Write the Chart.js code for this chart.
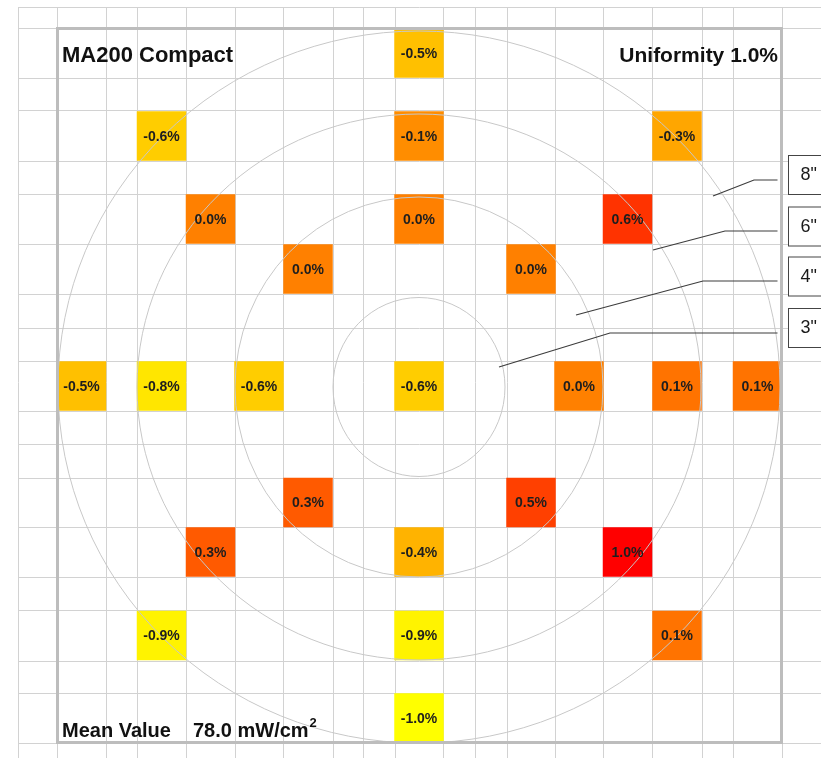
<!DOCTYPE html>
<html>
<head>
<meta charset="utf-8">
<title>MA200 Compact uniformity map</title>
<script src="https://cdn.jsdelivr.net/npm/chart.js@4.4.1/dist/chart.umd.min.js"></script>
<style>
  html, body { margin: 0; padding: 0; background: #fff; }
  canvas { display: block; }
</style>
</head>
<body>
<canvas id="uniformityMap" width="821" height="758"></canvas>
<script>
// Sheet grid: column and row boundaries (sheet units)
const colEdges = [18, 57, 106, 137, 186, 235, 283, 333, 363, 395, 443, 475, 507, 555, 603, 652, 702, 733, 782];
const rowEdges = [7, 28, 78, 111, 161, 194, 244, 294, 328, 361, 411, 444, 478, 527, 577, 610, 661, 693, 743];

// Measurement sites: cell centre and deviation from mean (%)
const siteX = [419, 161.5, 419, 677, 210.5, 419, 627.5, 308, 531, 81.5, 161.5, 259, 419, 579, 677, 757.5, 308, 531, 210.5, 419, 627.5, 161.5, 419, 677, 419];
const siteY = [53, 136, 136, 136, 219, 219, 219, 269, 269, 386, 386, 386, 386, 386, 386, 386, 502.5, 502.5, 552, 552, 552, 635.5, 635.5, 635.5, 718];
const siteDev = [-0.5, -0.6, -0.1, -0.3, 0.0, 0.0, 0.6, 0.0, 0.0, -0.5, -0.8, -0.6, -0.6, 0.0, 0.1, 0.1, 0.3, 0.5, 0.3, -0.4, 1.0, -0.9, -0.9, 0.1, -1.0];

// Wafer rings
const waferCenter = [419, 387];
const ringLabels = ['8"', '6"', '4"', '3"'];
const ringRadiusX = [361, 282, 184, 86];
const ringRadiusY = [356, 273, 190, 89.5];

// Header / footer text
const titleText = 'MA200 Compact';
const uniformityText = 'Uniformity 1.0%';
const meanLabel = 'Mean Value';
const meanValue = '78.0 mW/cm';

// callout layout for ring labels (sheet units)
const callouts = {
  boxLeft: 788.5,
  boxTop: [155, 206.5, 256.5, 308],
  boxHeight: 39,
  lineStart: 777.5,
  kneeX: [754, 725, 703, 610],
  kneeY: [180, 231, 281, 333],
  tipX: [713, 653, 576, 499],
  tipY: [196, 250, 315, 367]
};

const FONT = "'Liberation Sans', Arial, sans-serif";

// yellow (-1%) -> orange (0%) -> red (+1%)
function devColor(v) {
  const g = Math.max(0, Math.min(255, Math.round(128 - 128 * v)));
  return `rgb(255, ${g}, 0)`;
}

const sites = siteX.map((x, i) => ({ x, y: siteY[i], dev: siteDev[i] }));

const overlayPlugin = {
  id: 'waferOverlay',
  afterDatasetsDraw(chart) {
    const { ctx, scales: { x, y } } = chart;

    // rings
    ctx.save();
    ctx.strokeStyle = '#c8c8c8';
    ctx.lineWidth = 1;
    const cx = x.getPixelForValue(waferCenter[0]);
    const cy = y.getPixelForValue(waferCenter[1]);
    ringLabels.forEach((_, i) => {
      const rx = Math.abs(x.getPixelForValue(waferCenter[0] + ringRadiusX[i]) - cx);
      const ry = Math.abs(y.getPixelForValue(waferCenter[1] + ringRadiusY[i]) - cy);
      ctx.beginPath();
      ctx.ellipse(cx, cy, rx, ry, 0, 0, Math.PI * 2);
      ctx.stroke();
    });
    ctx.restore();

    // site values
    const meta = chart.getDatasetMeta(0);
    ctx.save();
    ctx.font = `bold 14px ${FONT}`;
    ctx.fillStyle = '#1e1e1e';
    ctx.textAlign = 'center';
    ctx.textBaseline = 'middle';
    meta.data.forEach((pt, i) => {
      ctx.fillText(siteDev[i].toFixed(1) + '%', pt.x, pt.y + 1);
    });
    ctx.restore();
  },
  afterDraw(chart) {
    const { ctx, scales: { x, y } } = chart;
    const left = x.getPixelForValue(colEdges[1]);
    const right = x.getPixelForValue(colEdges[colEdges.length - 1]);
    const top = y.getPixelForValue(rowEdges[1]);
    const bottom = y.getPixelForValue(rowEdges[rowEdges.length - 1]);

    // frame
    ctx.save();
    ctx.strokeStyle = '#bdbdbd';
    ctx.lineWidth = 3;
    ctx.strokeRect(left + 0.5, top + 0.5, right - left - 1, bottom - top - 1);
    ctx.restore();

    // header and footer text
    ctx.save();
    ctx.fillStyle = '#111';
    ctx.textBaseline = 'alphabetic';
    ctx.font = `bold 22px ${FONT}`;
    ctx.textAlign = 'left';
    ctx.fillText(titleText, left + 5, top + 34);
    ctx.font = `bold 21px ${FONT}`;
    ctx.textAlign = 'right';
    ctx.fillText(uniformityText, right - 4, top + 34);

    ctx.textAlign = 'left';
    ctx.font = `bold 20px ${FONT}`;
    ctx.fillText(meanLabel, left + 5, bottom - 6);
    ctx.fillText(meanValue, x.getPixelForValue(193), bottom - 6);
    const supX = x.getPixelForValue(193) + ctx.measureText(meanValue).width + 1;
    ctx.font = `bold 13px ${FONT}`;
    ctx.fillText('2', supX, bottom - 16);
    ctx.restore();

    // ring callouts
    ctx.save();
    ringLabels.forEach((label, i) => {
      ctx.strokeStyle = '#3c3c3c';
      ctx.lineWidth = 1.2;
      ctx.beginPath();
      ctx.moveTo(x.getPixelForValue(callouts.lineStart), y.getPixelForValue(callouts.kneeY[i]));
      ctx.lineTo(x.getPixelForValue(callouts.kneeX[i]), y.getPixelForValue(callouts.kneeY[i]));
      ctx.lineTo(x.getPixelForValue(callouts.tipX[i]), y.getPixelForValue(callouts.tipY[i]));
      ctx.stroke();

      const bx = x.getPixelForValue(callouts.boxLeft);
      const by = y.getPixelForValue(callouts.boxTop[i]);
      const bh = callouts.boxHeight;
      ctx.fillStyle = '#fff';
      ctx.fillRect(bx, by, 60, bh);
      ctx.strokeStyle = '#444';
      ctx.lineWidth = 1;
      ctx.strokeRect(bx, by + 0.5, 60, bh);

      ctx.fillStyle = '#1a1a1a';
      ctx.font = `18px ${FONT}`;
      ctx.textAlign = 'left';
      ctx.textBaseline = 'middle';
      ctx.fillText(label, bx + 12, by + bh / 2 + 1);
    });
    ctx.restore();
  }
};

const ctx = document.getElementById('uniformityMap').getContext('2d');

new Chart(ctx, {
  type: 'scatter',
  data: {
    datasets: [{
      label: 'Deviation',
      data: sites,
      pointStyle: 'rect',
      pointRadius: 35,
      pointHoverRadius: 35,
      borderWidth: 0,
      hoverBorderWidth: 0,
      backgroundColor: (c) => c.raw ? devColor(c.raw.dev) : '#fff',
      hoverBackgroundColor: (c) => c.raw ? devColor(c.raw.dev) : '#fff'
    }]
  },
  options: {
    responsive: false,
    animation: false,
    events: [],
    layout: {
      autoPadding: false,
      padding: { left: 18, top: 7, right: 0, bottom: 0 }
    },
    plugins: {
      legend: { display: false },
      tooltip: { enabled: false }
    },
    scales: {
      x: {
        type: 'linear',
        min: 18,
        max: 821,
        afterBuildTicks: (scale) => { scale.ticks = colEdges.map(v => ({ value: v })); },
        ticks: { display: false },
        grid: { color: '#d2d2d2', lineWidth: 1, drawTicks: false },
        border: { display: false }
      },
      y: {
        type: 'linear',
        reverse: true,
        min: 7,
        max: 758,
        afterBuildTicks: (scale) => { scale.ticks = rowEdges.map(v => ({ value: v })); },
        ticks: { display: false },
        grid: { color: '#d2d2d2', lineWidth: 1, drawTicks: false },
        border: { display: false }
      }
    }
  },
  plugins: [overlayPlugin]
});
</script>
</body>
</html>
